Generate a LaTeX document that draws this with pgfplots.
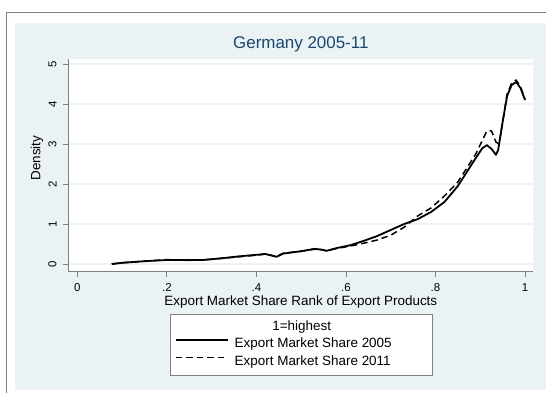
\documentclass[border=0pt]{standalone}
\usepackage{pgfplots}
\pgfplotsset{compat=1.18}
\usepackage{fontspec}
\setmainfont{Liberation Sans}
\definecolor{bgc}{RGB}{234,242,243}
\definecolor{dknavy}{RGB}{26,71,111}
\definecolor{axgray}{RGB}{128,128,128}
\begin{document}
\begin{tikzpicture}[x=1bp,y=1bp]
\useasboundingbox (0,0) rectangle (546,392);
\begin{scope}
\clip (0,0) rectangle (546,392);
\fill[white] (0,0) rectangle (546,392);
\draw[axgray, line width=1bp] (6.7,-20) -- (6.7,379.3) -- (600,379.3);
\fill[bgc] (15.3,2) rectangle (600,368.7);
\end{scope}
\begin{axis}[
  at={(68.3bp,120.3bp)}, anchor=south west,
  scale only axis, width=465bp, height=212.4bp,
  xmin=-0.0201, xmax=1.0185, ymin=-0.1925, ymax=5.1175,
  axis x line*=bottom, axis y line*=left,
  axis line style={-, axgray, line width=1bp},
  axis background/.style={fill=white},
  tick align=outside, major tick length=5bp,
  every tick/.style={axgray, line width=0.8bp},
  xtick={0,0.2,0.4,0.6,0.8,1}, xticklabels={0,.2,.4,.6,.8,1},
  ytick={0,1,2,3,4,5},
  ymajorgrids, major grid style={bgc, line width=1.2bp},
  /pgf/number format/assume math mode=true,
  tick label style={font=\fontsize{11.5}{13}\selectfont, inner sep=0pt},
  xticklabel style={anchor=north},
  yticklabel style={rotate=90, anchor=south},
  xticklabel shift=6.6bp, yticklabel shift=6.5bp,
  title={Germany 2005-11},
  title style={font=\fontsize{17}{20}\selectfont, text=dknavy, at={(axis description cs:0.5,1.0217)}, anchor=base},
  xlabel={Export Market Share Rank of Export Products},
  xlabel style={font=\fontsize{13.5}{16}\selectfont, at={(axis description cs:0.5,-0.1568)}, anchor=base},
  ylabel={Density},
  ylabel style={font=\fontsize{13.5}{16}\selectfont, at={(axis description cs:-0.06,0.535)}, anchor=base, rotate=0},
  legend image code/.code={\draw[#1] (0bp,4.5bp) -- (52bp,4.5bp);},
  legend cell align=left,
  legend style={at={(axis description cs:0.5,-0.199)}, anchor=north, draw=axgray, fill=white,
    font=\fontsize{13.5}{16}\selectfont, inner xsep=5bp, inner ysep=6.2bp, row sep=4.6bp, column sep=6bp,
    nodes={inner sep=0pt, text height=10bp, text depth=3bp}},
]
\addlegendimage{empty legend}
\addlegendentry{\hspace{-58bp}\makebox[250bp][c]{1=highest}}
\addplot[black, line width=1.8bp, line join=round] table {
x y
0.077 0.00
0.10 0.03
0.15 0.07
0.20 0.10
0.25 0.10
0.28 0.10
0.32 0.14
0.36 0.19
0.40 0.23
0.42 0.25
0.445 0.18
0.46 0.26
0.50 0.32
0.53 0.38
0.545 0.36
0.557 0.33
0.58 0.40
0.61 0.47
0.64 0.58
0.67 0.70
0.70 0.85
0.73 1.00
0.76 1.12
0.79 1.30
0.82 1.55
0.85 1.95
0.87 2.30
0.89 2.65
0.905 2.90
0.915 2.97
0.925 2.88
0.935 2.73
0.94 2.85
0.95 3.55
0.96 4.20
0.97 4.47
0.98 4.55
0.99 4.40
1.00 4.10
};
\addlegendentry{\makebox[192bp][l]{Export Market Share 2005}}
\addplot[black, line width=1.5bp, line join=round, dash pattern=on 6.5bp off 4bp] table {
x y
0.077 0.00
0.10 0.03
0.15 0.07
0.20 0.11
0.25 0.09
0.28 0.10
0.32 0.14
0.36 0.18
0.40 0.22
0.42 0.25
0.445 0.19
0.46 0.27
0.50 0.32
0.53 0.37
0.545 0.36
0.557 0.33
0.58 0.39
0.61 0.45
0.64 0.52
0.67 0.60
0.70 0.72
0.73 0.92
0.76 1.20
0.79 1.40
0.82 1.70
0.85 2.05
0.87 2.40
0.89 2.75
0.905 3.10
0.915 3.33
0.925 3.33
0.935 3.05
0.942 3.00
0.95 3.55
0.96 4.25
0.97 4.52
0.98 4.60
0.99 4.43
1.00 4.12
};
\addlegendentry{\makebox[192bp][l]{Export Market Share 2011}}
\end{axis}
\end{tikzpicture}
\end{document}
